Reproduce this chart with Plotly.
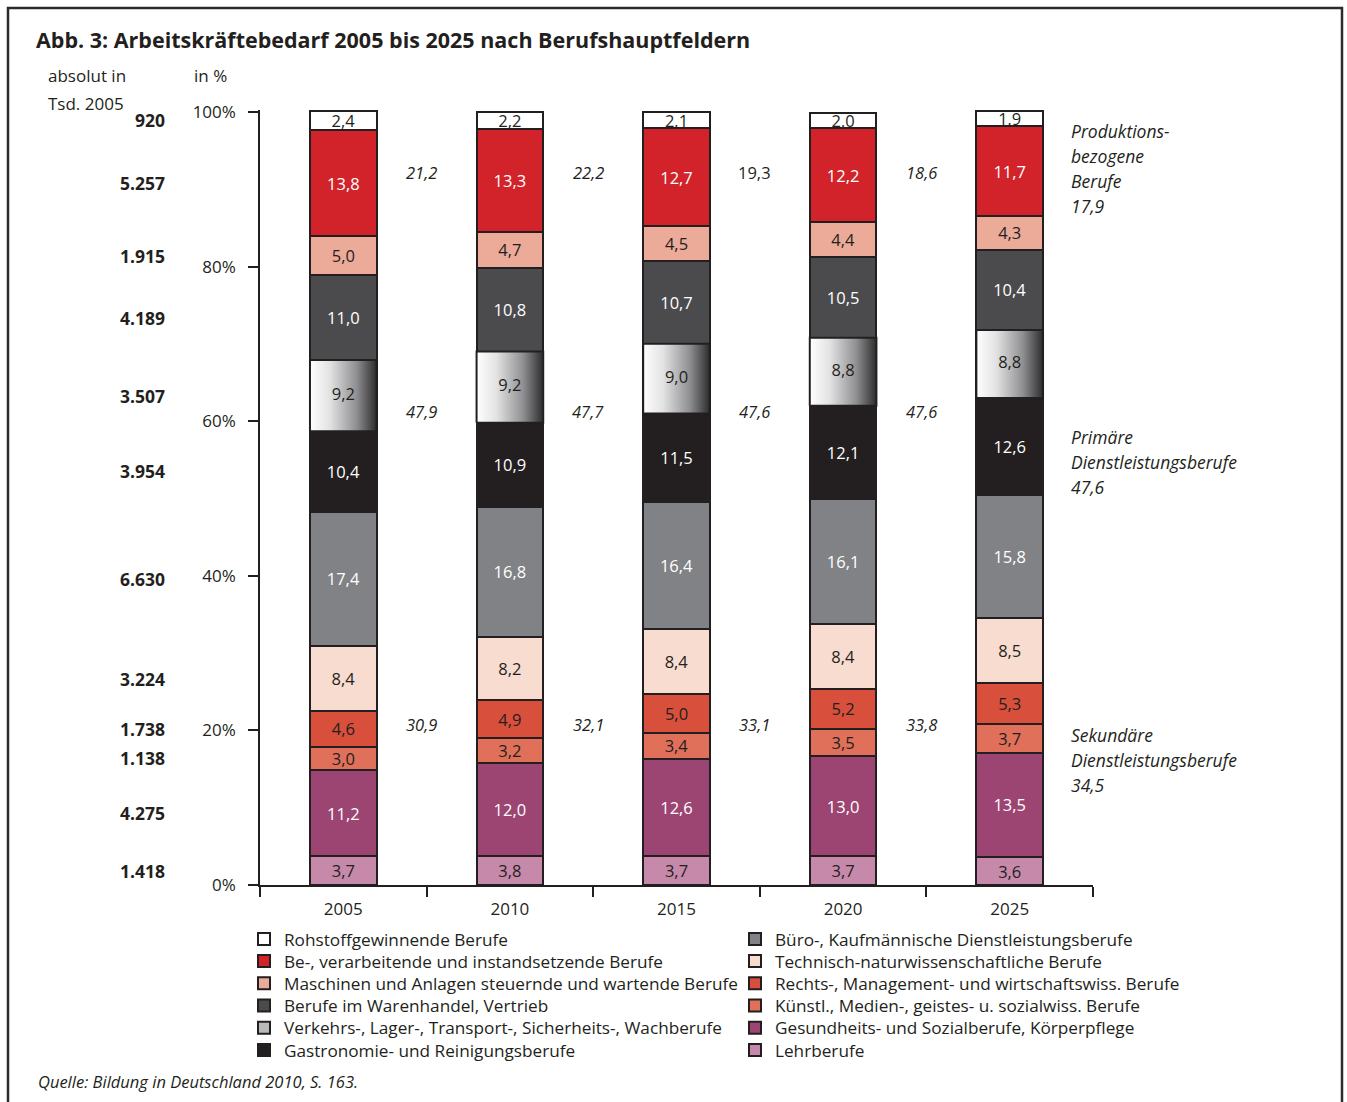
import plotly.graph_objects as go

# ---------------- data ----------------
years = ["2005", "2010", "2015", "2020", "2025"]

# categories listed bottom -> top of each stacked bar
categories = [
    "Lehrberufe",
    "Gesundheits- und Sozialberufe, Körperpflege",
    "Künstl., Medien-, geistes- u. sozialwiss. Berufe",
    "Rechts-, Management- und wirtschaftswiss. Berufe",
    "Technisch-naturwissenschaftliche Berufe",
    "Büro-, Kaufmännische Dienstleistungsberufe",
    "Gastronomie- und Reinigungsberufe",
    "Verkehrs-, Lager-, Transport-, Sicherheits-, Wachberufe",
    "Berufe im Warenhandel, Vertrieb",
    "Maschinen und Anlagen steuernde und wartende Berufe",
    "Be-, verarbeitende und instandsetzende Berufe",
    "Rohstoffgewinnende Berufe",
]

share_2005 = [3.7, 11.2, 3.0, 4.6, 8.4, 17.4, 10.4, 9.2, 11.0, 5.0, 13.8, 2.4]
share_2010 = [3.8, 12.0, 3.2, 4.9, 8.2, 16.8, 10.9, 9.2, 10.8, 4.7, 13.3, 2.2]
share_2015 = [3.7, 12.6, 3.4, 5.0, 8.4, 16.4, 11.5, 9.0, 10.7, 4.5, 12.7, 2.1]
share_2020 = [3.7, 13.0, 3.5, 5.2, 8.4, 16.1, 12.1, 8.8, 10.5, 4.4, 12.2, 2.0]
share_2025 = [3.6, 13.5, 3.7, 5.3, 8.5, 15.8, 12.6, 8.8, 10.4, 4.3, 11.7, 1.9]
shares_by_year = [share_2005, share_2010, share_2015, share_2020, share_2025]

# absolute numbers 2005 (in thousands), same order as categories
absolute_2005 = [1418, 4275, 1138, 1738, 3224, 6630, 3954, 3507, 4189, 1915, 5257, 920]

# group totals shown between the bars (after 2005, 2010, 2015, 2020)
group_production = [21.2, 22.2, 19.3, 18.6]
group_primary = [47.9, 47.7, 47.6, 47.6]
group_secondary = [30.9, 32.1, 33.1, 33.8]
# group totals 2025 (right-hand labels)
total_2025_production = 17.9
total_2025_primary = 47.6
total_2025_secondary = 34.5

y_ticks = [0, 20, 40, 60, 80, 100]

# ---------------- styling ----------------
DARK = "#231f20"
FONT = "Open Sans"
colors = ["#c689a9", "#9c4572", "#e0705a", "#d84f3b", "#f7dccf", "#818285",
          "#231f20", "#b9b9bb", "#4b4b4d", "#ebab98", "#d2232a", "#ffffff"]
text_colors = [DARK, "white", DARK, DARK, DARK, "white",
               "white", DARK, "white", DARK, "white", DARK]
GRADIENT_IDX = 7  # Verkehrs-... segment drawn with horizontal gradient
BAR_W = 0.4

# plot-area pixel geometry (used to place texts outside the axes)
PL, PR, PT, PB = 260, 1093, 110, 885
PW, PH = PR - PL, PB - PT


def px_x(px):
    return (px - PL) / PW


def px_y(py):
    return (PB - py) / PH


x_pos = list(range(len(years)))


def fmt(v):
    return f"{v:.1f}".replace(".", ",")


fig = go.Figure()


def legend_key(ci):
    row = (11 - ci) if ci >= 6 else (5 - ci)
    idx = (0 if ci >= 6 else 6) + row + 1
    return "legend" if idx == 1 else f"legend{idx}"


for ci, cat in enumerate(categories):
    vals = [yr[ci] for yr in shares_by_year]
    fig.add_trace(go.Bar(
        x=x_pos, y=vals, name=cat, width=BAR_W,
        marker=dict(color=colors[ci], line=dict(color=DARK, width=2)),
        texttemplate="" if ci == GRADIENT_IDX else "%{y:.1f}",
        textposition="inside", insidetextanchor="middle", textangle=0,
        textfont=dict(color=text_colors[ci], size=16.5, family=FONT),
        legend=legend_key(ci),
        hoverinfo="skip",
    ))

# gradient overlay for the Verkehrs-... segment
for xi, yr in enumerate(shares_by_year):
    base = sum(yr[:GRADIENT_IDX])
    top = base + yr[GRADIENT_IDX]
    fig.add_trace(go.Scatter(
        x=[xi - BAR_W / 2, xi + BAR_W / 2, xi + BAR_W / 2, xi - BAR_W / 2, xi - BAR_W / 2],
        y=[base, base, top, top, base],
        mode="lines", fill="toself",
        line=dict(color=DARK, width=2),
        fillgradient=dict(type="horizontal",
                          colorscale=[[0, "#ffffff"], [0.3, "#e2e2e3"],
                                      [0.7, "#8f8f92"], [1, "#2c2c2d"]]),
        showlegend=False, hoverinfo="skip",
    ))
    fig.add_trace(go.Scatter(
        x=[xi], y=[(base + top) / 2], mode="text", text=[fmt(yr[GRADIENT_IDX])],
        textfont=dict(color=DARK, size=16.5, family=FONT),
        showlegend=False, hoverinfo="skip",
    ))

annotations = []

# group totals between bars
group_rows = [(group_production, 92.2), (group_primary, 61.3), (group_secondary, 20.8)]
for gi, (gvals, ypos) in enumerate(group_rows):
    for i, v in enumerate(gvals):
        italic = not (gi == 0 and i == 2)
        annotations.append(dict(
            x=i + 0.47, y=ypos, xref="x", yref="y", text=fmt(v), showarrow=False,
            font=dict(size=16.5, family=FONT, color=DARK,
                      style="italic" if italic else "normal"),
        ))

# right-hand group labels
right_labels = [
    (["Produktions-", "bezogene", "Berufe", fmt(total_2025_production)], 131),
    (["Primäre", "Dienstleistungsberufe", fmt(total_2025_primary)], 437),
    (["Sekundäre", "Dienstleistungsberufe", fmt(total_2025_secondary)], 735),
]
for lines, py in right_labels:
    for k, line in enumerate(lines):
        annotations.append(dict(
            x=px_x(1069), y=px_y(py + 25 * k), xref="paper", yref="paper",
            text=line, showarrow=False, xanchor="left", yanchor="middle",
            font=dict(size=17.5, family=FONT, color=DARK, style="italic"),
        ))

# absolute numbers 2005 on the left, aligned with 2005 segments
cum = 0
for ci, v in enumerate(share_2005):
    mid = cum + v / 2
    cum += v
    annotations.append(dict(
        x=px_x(167), y=mid, xref="paper", yref="y",
        text="<b>" + f"{absolute_2005[ci]:,}".replace(",", ".") + "</b>",
        showarrow=False, xanchor="right", yanchor="middle",
        font=dict(size=17.5, family=FONT, color=DARK),
    ))

# column headers
for txt, px, py in [("absolut in", 46, 76), ("Tsd. 2005", 46, 104), ("in %", 192, 76)]:
    annotations.append(dict(
        x=px_x(px), y=px_y(py), xref="paper", yref="paper", text=txt,
        showarrow=False, xanchor="left", yanchor="middle",
        font=dict(size=17, family=FONT, color=DARK),
    ))

# source
annotations.append(dict(
    x=px_x(36), y=px_y(1081), xref="paper", yref="paper",
    text="Quelle: Bildung in Deutschland 2010, S. 163.", showarrow=False,
    xanchor="left", yanchor="middle",
    font=dict(size=16.5, family=FONT, color=DARK, style="italic"),
))

# one legend box per entry so the row spacing can match the original
legends = {}
for ci in range(len(categories)):
    key = legend_key(ci)
    left_col = ci >= 6
    row = (11 - ci) if left_col else (5 - ci)
    center_y = 938 + 22.2 * row
    legends[key] = dict(
        x=px_x(244 if left_col else 735), y=px_y(center_y - 16.8),
        xanchor="left", yanchor="top",
        font=dict(size=17.2, family=FONT, color=DARK),
        itemwidth=30, bgcolor="rgba(0,0,0,0)", borderwidth=0,
    )

fig.update_layout(
    width=1347, height=1102,
    margin=dict(l=PL, r=1347 - PR, t=PT, b=1102 - PB),
    paper_bgcolor="white", plot_bgcolor="white",
    barmode="stack",
    separators=",.",
    font=dict(family=FONT, color=DARK, size=16),
    title=dict(text="<b>Abb. 3: Arbeitskräftebedarf 2005 bis 2025 nach Berufshauptfeldern</b>",
               x=36 / 1347, y=1 - 40 / 1102, xref="container", yref="container",
               xanchor="left", yanchor="middle",
               font=dict(size=21.5, family=FONT, color=DARK)),
    uniformtext=dict(minsize=16.5, mode="show"),
    xaxis=dict(range=[-0.5, 4.5], tickmode="array", tickvals=x_pos, ticktext=years,
               ticks="", showline=True, linecolor=DARK, linewidth=1.5,
               showgrid=False, zeroline=False, tickfont=dict(size=17),
               ticklabelstandoff=8,
               minor=dict(tickvals=[i - 0.5 for i in range(len(years) + 1)],
                          ticks="outside", ticklen=10, tickwidth=1.5, tickcolor=DARK)),
    yaxis=dict(range=[0, 100.25], tickmode="array", tickvals=y_ticks,
               ticktext=[f"{t}%" for t in y_ticks],
               ticks="outside", ticklen=10, tickwidth=1.5, tickcolor=DARK,
               showline=True, linecolor=DARK, linewidth=1.5, showgrid=False,
               zeroline=False, tickfont=dict(size=17), ticklabelstandoff=9),
    annotations=annotations,
    shapes=[dict(type="rect", xref="paper", yref="paper",
                 x0=px_x(8), x1=px_x(1342), y0=px_y(1130), y1=px_y(8),
                 line=dict(color="#2b2b2b", width=2.5), fillcolor="rgba(0,0,0,0)")],
    **legends,
)

fig.write_html("out.html")
